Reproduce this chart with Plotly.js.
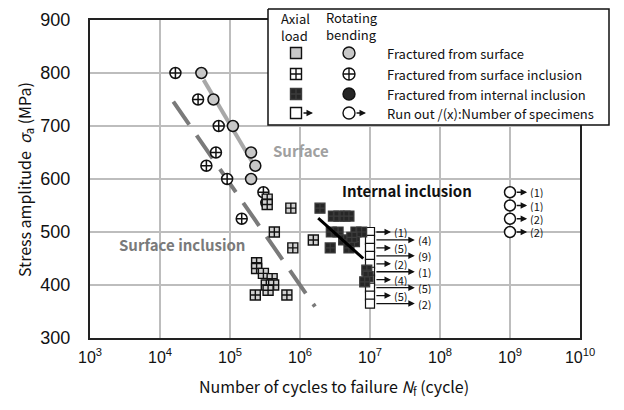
<!DOCTYPE html>
<html>
<head>
<meta charset="utf-8">
<script src="https://cdn.plot.ly/plotly-3.0.1.min.js"></script>
<style>html,body{margin:0;padding:0;background:#fff;}#chart{width:624px;height:410px;}</style>
</head>
<body>
<div id="chart"></div>
<script>
// ---------------- data ----------------
const xTickVals = [1e3, 1e4, 1e5, 1e6, 1e7, 1e8, 1e9, 1e10];
const xTickText = ['10<sup>3</sup>','10<sup>4</sup>','10<sup>5</sup>','10<sup>6</sup>','10<sup>7</sup>','10<sup>8</sup>','10<sup>9</sup>','10<sup>10</sup>'];
const yTickVals = [300, 400, 500, 600, 700, 800, 900];

// Rotating bending, fractured from surface
const rsN = [3.9e4, 5.8e4, 1.1e5, 2.0e5, 2.3e5, 2.0e5];
const rsS = [800, 750, 700, 650, 625, 600];
// Rotating bending, fractured from surface inclusion
const rsiN = [1.66e4, 3.5e4, 6.9e4, 6.3e4, 4.6e4, 9.1e4, 3.0e5, 3.3e5, 1.47e5];
const rsiS = [800, 750, 700, 650, 625, 600, 575, 555, 525];
// Axial load, fractured from surface inclusion
const asiN = [3.4e5, 3.4e5, 7.4e5, 4.3e5, 7.9e5, 1.55e6, 2.4e5, 2.4e5, 3.0e5, 4.0e5, 3.3e5, 4.2e5, 3.5e5, 2.3e5, 6.5e5];
const asiS = [562, 552, 545, 500, 470, 485, 442, 431, 422, 412, 400, 400, 390, 381, 381];
// Axial load, fractured from internal inclusion
const aiiN = [1.93e6, 3.0e6, 3.6e6, 4.4e6, 5.0e6, 2.8e6, 3.5e6, 6.3e6, 7.6e6, 2.7e6, 4.2e6, 5.0e6, 6.0e6, 5.5e6, 9.0e6, 9.4e6, 8.4e6];
const aiiS = [545, 530, 530, 530, 530, 500, 500, 500, 500, 470, 485, 470, 482, 490, 428, 416, 406];
// Axial load run-outs (10^7 cycles) and number of specimens
const roAxN = [1e7, 1e7, 1e7, 1e7, 1e7, 1e7, 1e7, 1e7, 1e7, 1e7];
const roAxS = [500, 485, 470, 455, 440, 425, 410, 395, 380, 365];
const roAxCount = [1, 4, 5, 9, 2, 1, 4, 5, 5, 2];
// Rotating bending run-outs (10^9 cycles)
const roRbN = [1e9, 1e9, 1e9, 1e9];
const roRbS = [575, 550, 525, 500];
const roRbCount = [1, 1, 2, 2];
// Fitted S-N lines
const surfLineN = [4.2e4, 2.28e5];
const surfLineS = [787, 623];
const surfInclLineN = [1.55e4, 1.64e6];
const surfInclLineS = [746, 359];
const intInclLineN = [1.82e6, 8.0e6];
const intInclLineS = [526, 450];

// ---------------- figure geometry (pixels) ----------------
const W = 624, H = 410;
const PL = 90, PR = 580, PT = 20, PB = 338;
const FONT = '"Noto Sans CJK JP", "Liberation Sans", sans-serif';
const TICKFONT = '"Liberation Sans", Arial, sans-serif';

const traces = [];
traces.push({x: surfLineN, y: surfLineS, mode: 'lines', line: {color: '#a8a8a8', width: 4}, hoverinfo: 'skip'});
traces.push({x: surfInclLineN, y: surfInclLineS, mode: 'lines', line: {color: '#7a7a7a', width: 4, dash: '28px,13px'}, hoverinfo: 'skip'});
traces.push({x: rsiN, y: rsiS, mode: 'markers', marker: {symbol: 'circle-cross', size: 11, color: '#ffffff', line: {color: '#111', width: 1.5}}});
traces.push({x: rsN, y: rsS, mode: 'markers', marker: {symbol: 'circle', size: 11, color: '#c8c8c8', line: {color: '#111', width: 1.5}}});
traces.push({x: asiN, y: asiS, mode: 'markers', marker: {symbol: 'square-cross', size: 10, color: '#d0d0d0', line: {color: '#111', width: 1.4}}});
traces.push({x: roAxN, y: roAxS, mode: 'markers', marker: {symbol: 'square', size: 9, color: '#ffffff', line: {color: '#111', width: 1.2}}});
traces.push({x: aiiN, y: aiiS, mode: 'markers', marker: {symbol: 'square-cross', size: 10, color: '#262626', line: {color: '#3c3c3c', width: 1.2}}});
traces.push({x: intInclLineN, y: intInclLineS, mode: 'lines', line: {color: '#000', width: 3}, hoverinfo: 'skip'});
traces.push({x: roRbN, y: roRbS, mode: 'markers', marker: {symbol: 'circle', size: 11, color: '#ffffff', line: {color: '#111', width: 1.5}}});

// legend (pixel coordinates on an overlay axis covering the whole figure)
const legBox = {x0: 268, x1: 609, y0: 9, y1: 125};
traces.push({x: [legBox.x0, legBox.x1, legBox.x1, legBox.x0, legBox.x0], y: [legBox.y0, legBox.y0, legBox.y1, legBox.y1, legBox.y0],
  xaxis: 'x2', yaxis: 'y2', mode: 'lines', fill: 'toself', fillcolor: '#ffffff', line: {color: '#111', width: 1.5}, hoverinfo: 'skip'});
const legRows = [53, 74, 94, 113];
const legAxX = 296, legRbX = 349;
traces.push({x: [legAxX, legAxX, legAxX, legAxX], y: legRows, xaxis: 'x2', yaxis: 'y2', mode: 'markers', cliponaxis: false,
  marker: {symbol: ['square', 'square-cross', 'square-cross', 'square'], size: 11,
    color: ['#c8c8c8', '#ffffff', '#262626', '#ffffff'], line: {color: ['#111', '#111', '#3c3c3c', '#111'], width: 1.4}}});
traces.push({x: [legRbX, legRbX, legRbX, legRbX], y: legRows, xaxis: 'x2', yaxis: 'y2', mode: 'markers', cliponaxis: false,
  marker: {symbol: ['circle', 'circle-cross', 'circle', 'circle'], size: 12,
    color: ['#c8c8c8', '#ffffff', '#262626', '#ffffff'], line: {color: '#111', width: 1.4}}});

const annotations = [];
const legTexts = ['Fractured from surface', 'Fractured from surface inclusion', 'Fractured from internal inclusion', 'Run out /(x):Number of specimens'];
legTexts.forEach((t, i) => annotations.push({xref: 'x2', yref: 'y2', x: 385, y: legRows[i], text: t, showarrow: false, xanchor: 'left', yanchor: 'middle', font: {family: FONT, size: 13, color: '#111'}}));
annotations.push({xref: 'x2', yref: 'y2', x: 279, y: 27, text: 'Axial<br>load', align: 'left', showarrow: false, xanchor: 'left', yanchor: 'middle', font: {family: FONT, size: 13, color: '#111'}});
annotations.push({xref: 'x2', yref: 'y2', x: 324, y: 26, text: 'Rotating<br>bending', align: 'left', showarrow: false, xanchor: 'left', yanchor: 'middle', font: {family: FONT, size: 13, color: '#111'}});
// legend arrows
annotations.push({xref: 'x2', yref: 'y2', axref: 'x2', ayref: 'y2', x: 313, y: legRows[3], ax: 302, ay: legRows[3], text: '', showarrow: true, arrowhead: 2, arrowsize: 1, arrowwidth: 1.3, arrowcolor: '#111'});
annotations.push({xref: 'x2', yref: 'y2', axref: 'x2', ayref: 'y2', x: 366, y: legRows[3], ax: 355, ay: legRows[3], text: '', showarrow: true, arrowhead: 2, arrowsize: 1, arrowwidth: 1.3, arrowcolor: '#111'});

// run-out arrows and counts (axial)
const lg = Math.log10;
roAxS.forEach((s, i) => {
  const n0 = lg(roAxN[i]);
  const longA = i % 2 === 1;
  const tip = n0 + (longA ? 0.64 : 0.30);
  const lab = n0 + (longA ? 0.79 : 0.44);
  annotations.push({xref: 'x', yref: 'y', axref: 'x', ayref: 'y', x: tip, y: s, ax: n0 + 0.07, ay: s, text: '', showarrow: true, arrowhead: 2, arrowsize: 1, arrowwidth: 1.3, arrowcolor: '#111'});
  annotations.push({xref: 'x', yref: 'y', x: lab, y: s, text: '(' + roAxCount[i] + ')', showarrow: false, xanchor: 'center', yanchor: 'middle', height: 12, borderpad: 0, font: {family: FONT, size: 11, color: '#111'}});
});
roRbS.forEach((s, i) => {
  const n0 = lg(roRbN[i]);
  annotations.push({xref: 'x', yref: 'y', axref: 'x', ayref: 'y', x: n0 + 0.245, y: s, ax: n0 + 0.075, ay: s, text: '', showarrow: true, arrowhead: 2, arrowsize: 1, arrowwidth: 1.3, arrowcolor: '#111'});
  annotations.push({xref: 'x', yref: 'y', x: n0 + 0.39, y: s, text: '(' + roRbCount[i] + ')', showarrow: false, xanchor: 'center', yanchor: 'middle', height: 12, borderpad: 0, font: {family: FONT, size: 11, color: '#111'}});
});

// curve labels
annotations.push({xref: 'x2', yref: 'y2', x: 301, y: 150, text: '<b>Surface</b>', showarrow: false, font: {family: FONT, size: 15, color: '#a0a0a0'}});
annotations.push({xref: 'x2', yref: 'y2', x: 407, y: 190, text: '<b>Internal inclusion</b>', showarrow: false, font: {family: FONT, size: 15, color: '#111'}});
annotations.push({xref: 'x2', yref: 'y2', x: 182, y: 244, text: '<b>Surface inclusion</b>', showarrow: false, font: {family: FONT, size: 15, color: '#7a7a7a'}});

// axis titles
annotations.push({xref: 'x2', yref: 'y2', x: 334, y: 386, text: 'Number of cycles to failure <i>N</i><sub>f</sub> (cycle)', showarrow: false, font: {family: FONT, size: 16, color: '#111'}});
annotations.push({xref: 'x2', yref: 'y2', x: 24, y: 180, textangle: -90, text: 'Stress amplitude  <i>σ</i><sub>a</sub> (MPa)', showarrow: false, font: {family: FONT, size: 16, color: '#111'}});

const layout = {
  width: W, height: H,
  margin: {l: 0, r: 0, t: 0, b: 0},
  paper_bgcolor: '#ffffff', plot_bgcolor: 'rgba(0,0,0,0)',
  showlegend: false,
  xaxis: {type: 'log', range: [3, 10], domain: [PL / W, PR / W], anchor: 'y',
    tickvals: xTickVals, ticktext: xTickText, tickfont: {family: TICKFONT, size: 16, color: '#111'},
    showgrid: true, gridcolor: '#bdbdbd', gridwidth: 2, zeroline: false,
    showline: true, linecolor: '#222', linewidth: 2, mirror: true, ticks: '', ticklabelstandoff: 4},
  yaxis: {range: [300, 900], domain: [(H - PB) / H, (H - PT) / H], anchor: 'x',
    tickvals: yTickVals, tickfont: {family: TICKFONT, size: 18, color: '#111'},
    showgrid: true, gridcolor: '#bdbdbd', gridwidth: 2, zeroline: false,
    showline: true, linecolor: '#222', linewidth: 2, mirror: true, ticks: '', ticklabelstandoff: 14},
  xaxis2: {domain: [0, 1], range: [0, W], anchor: 'y2', visible: false, fixedrange: true},
  yaxis2: {domain: [0, 1], range: [H, 0], anchor: 'x2', visible: false, fixedrange: true},
  annotations: annotations
};

Plotly.newPlot('chart', traces, layout, {displayModeBar: false, staticPlot: true});
</script>
</body>
</html>
